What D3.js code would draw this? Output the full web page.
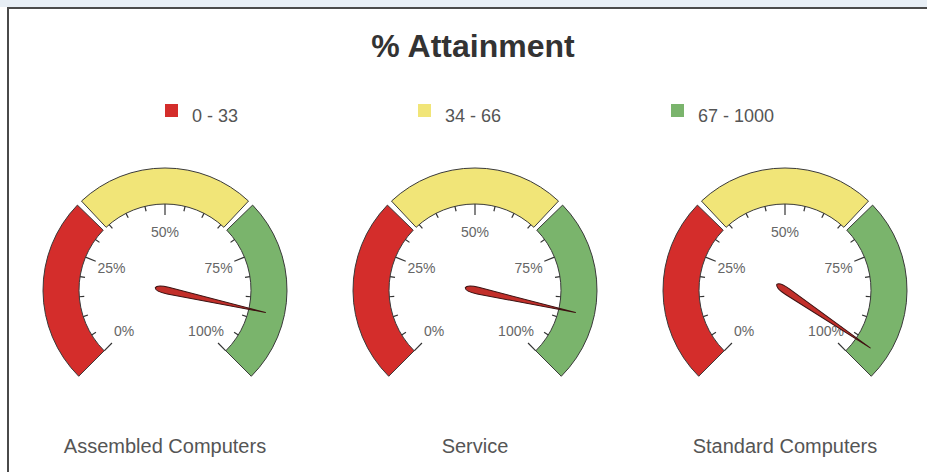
<!DOCTYPE html>
<html>
<head>
<meta charset="utf-8">
<script src="https://cdn.jsdelivr.net/npm/d3@7"></script>
<style>
  html, body { margin: 0; padding: 0; background: #fff; }
  svg { display: block; font-family: "Liberation Sans", Arial, Helvetica, sans-serif; }
</style>
</head>
<body>
<svg id="chart" width="927" height="472"></svg>
<script>
// Gauges and their current attainment (%)
const gaugeNames = ["Assembled Computers", "Service", "Standard Computers"];
const gaugeValues = [88, 88, 96];

// Colour bands
const bandLabels = ["0 - 33", "34 - 66", "67 - 1000"];
const bandFrom = [0, 34, 67];
const bandTo = [33, 66, 1000];
const bandColors = ["#d42d2b", "#f1e578", "#7ab46c"];

// Scale ticks
const majorTicks = [0, 25, 50, 75, 100];
const tickLabels = ["0%", "25%", "50%", "75%", "100%"];
const minorTicks = d3.range(0, 101, 5);

const W = 927, H = 472;
const svg = d3.select("#chart");

// page strip and frame
svg.append("rect").attr("x", 0).attr("y", 0).attr("width", W).attr("height", 7).attr("fill", "#e7eef5");
svg.append("path")
  .attr("d", `M8,${H + 5} V8 H${W + 5}`)
  .attr("fill", "none").attr("stroke", "#4a4a4a").attr("stroke-width", 2);

// title
svg.append("text")
  .attr("x", 473).attr("y", 57)
  .attr("text-anchor", "middle")
  .attr("font-size", 32).attr("font-weight", "bold")
  .attr("fill", "#333")
  .text("% Attainment");

// legend
const legend = svg.append("g").selectAll("g")
  .data(bandLabels)
  .join("g")
  .attr("transform", (d, i) => `translate(${165 + i * 253},104)`);
legend.append("rect")
  .attr("width", 13).attr("height", 13)
  .attr("fill", (d, i) => bandColors[i]);
legend.append("text")
  .attr("x", 27).attr("y", 18)
  .attr("font-size", 18).attr("fill", "#555")
  .text(d => d);

// gauge geometry
const valueScale = d3.scaleLinear().domain([0, 100]).range([-135, 135]).clamp(true);
const rad = deg => deg * Math.PI / 180;
const xGauge = d3.scaleBand().domain(gaugeNames).range([10, 940]);
const cy = 290;
const rOuter = 122, rInner = 86, rLabel = 58;

const bandArc = d3.arc()
  .innerRadius(rInner).outerRadius(rOuter)
  .startAngle(d => rad(valueScale(d.from)))
  .endAngle(d => rad(valueScale(d.to)));

const bands = bandLabels.map((l, i) => ({ from: bandFrom[i], to: bandTo[i], color: bandColors[i] }));

gaugeNames.forEach((name, gi) => {
  const cx = xGauge(name) + xGauge.bandwidth() / 2;
  const g = svg.append("g").attr("transform", `translate(${cx},${cy})`);

  g.selectAll("path.band")
    .data(bands)
    .join("path")
    .attr("class", "band")
    .attr("d", bandArc)
    .attr("fill", d => d.color)
    .attr("stroke", "#3a3a3a").attr("stroke-width", 1);

  // minor and major ticks inside the band
  g.selectAll("line.tick")
    .data(minorTicks)
    .join("line")
    .attr("class", "tick")
    .attr("x1", 0).attr("x2", 0)
    .attr("y1", -rInner)
    .attr("y2", d => -(rInner - (majorTicks.includes(d) ? 11 : 5)))
    .attr("transform", d => `rotate(${valueScale(d)})`)
    .attr("stroke", "#333").attr("stroke-width", 1.2);

  g.selectAll("text.tl")
    .data(majorTicks)
    .join("text")
    .attr("class", "tl")
    .attr("x", d => rLabel * Math.sin(rad(valueScale(d))))
    .attr("y", d => -rLabel * Math.cos(rad(valueScale(d))))
    .attr("text-anchor", "middle")
    .attr("dominant-baseline", "central")
    .attr("font-size", 14).attr("fill", "#666")
    .text((d, i) => tickLabels[i]);

  // needle
  g.append("path")
    .attr("d", "M0,-103 L3.4,-3 Q3.7,9 0,10 Q-3.7,9 -3.4,-3 Z")
    .attr("transform", `rotate(${valueScale(gaugeValues[gi])})`)
    .attr("fill", "#c22f2a")
    .attr("stroke", "#3b1212").attr("stroke-width", 1)
    .attr("stroke-linejoin", "round");

  // gauge name
  svg.append("text")
    .attr("x", cx).attr("y", 453)
    .attr("text-anchor", "middle")
    .attr("font-size", 20).attr("fill", "#555")
    .text(name);
});
</script>
</body>
</html>
